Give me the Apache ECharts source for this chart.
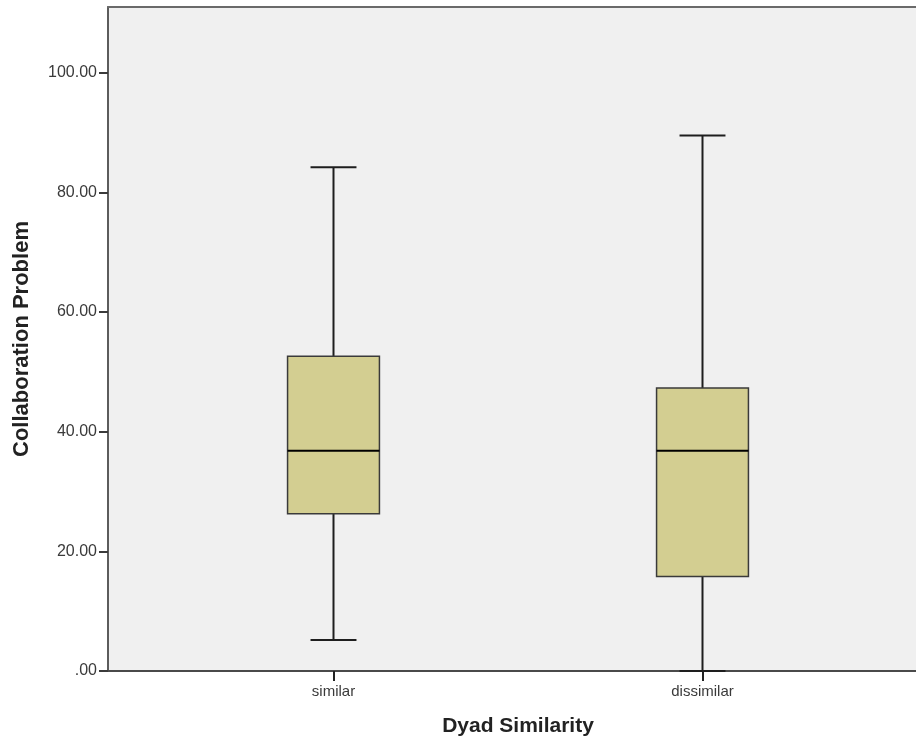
<!DOCTYPE html>
<html>
<head>
<meta charset="utf-8">
<script src="https://cdn.jsdelivr.net/npm/echarts@6/dist/echarts.min.js"></script>
<style>
  html, body { margin: 0; padding: 0; background: #ffffff; }
  #chart { width: 916px; height: 742px; }
</style>
</head>
<body>
<div id="chart"></div>
<script>
// Groups on the x axis
const categories = ['similar', 'dissimilar'];
// Five-number summaries per group: [min, Q1, median, Q3, max]
const boxStats = [
  [5.2, 26.3, 36.8, 52.6, 84.2],
  [0.0, 15.8, 36.8, 47.3, 89.5]
];
// Y axis scale
const yMin = 0;
const yMax = 111;
const yInterval = 20;

const FONT = '"Liberation Sans", Arial, sans-serif';
const FRAME = '#5c5c5c';

const chart = echarts.init(document.getElementById('chart'), null, { renderer: 'canvas' });

function renderBox(params, api) {
  const idx = api.value(0);
  const lo = api.value(1), q1 = api.value(2), med = api.value(3), q3 = api.value(4), hi = api.value(5);
  const band = api.size([1, 0])[0];
  const boxW = band * 0.249;
  const capW = boxW / 2;
  const pLo = api.coord([idx, lo]);
  const pQ1 = api.coord([idx, q1]);
  const pMed = api.coord([idx, med]);
  const pQ3 = api.coord([idx, q3]);
  const pHi = api.coord([idx, hi]);
  const x = pMed[0];
  const lineStyle = { stroke: '#1e1e1e', lineWidth: 2 };
  return {
    type: 'group',
    children: [
      { type: 'line', shape: { x1: x, y1: pQ3[1], x2: x, y2: pHi[1] }, style: lineStyle },
      { type: 'line', shape: { x1: x, y1: pQ1[1], x2: x, y2: pLo[1] }, style: lineStyle },
      { type: 'line', shape: { x1: x - capW / 2, y1: pHi[1], x2: x + capW / 2, y2: pHi[1] }, style: lineStyle },
      { type: 'line', shape: { x1: x - capW / 2, y1: pLo[1], x2: x + capW / 2, y2: pLo[1] }, style: lineStyle },
      {
        type: 'rect',
        shape: { x: x - boxW / 2, y: pQ3[1], width: boxW, height: pQ1[1] - pQ3[1] },
        style: { fill: '#d3ce91', stroke: '#3a3a3a', lineWidth: 1.5 }
      },
      { type: 'line', shape: { x1: x - boxW / 2, y1: pMed[1], x2: x + boxW / 2, y2: pMed[1] }, style: { stroke: '#000000', lineWidth: 2 } }
    ]
  };
}

const option = {
  animation: false,
  backgroundColor: '#ffffff',
  grid: [
    // plotting frame
    { left: 108, right: 0, top: 7, bottom: 71, show: true, backgroundColor: '#f0f0f0', borderWidth: 0 },
    // category placement
    { left: 149, right: 29, top: 7, bottom: 71 }
  ],
  xAxis: [
    {
      gridIndex: 0, type: 'value', min: 0, max: 1,
      axisLine: { show: true, lineStyle: { color: '#4a4a4a', width: 2 } },
      axisTick: { show: false }, axisLabel: { show: false }, splitLine: { show: false }
    },
    {
      gridIndex: 1, type: 'category', data: categories, boundaryGap: true,
      axisLine: { show: false },
      axisTick: { show: true, alignWithLabel: true, length: 10, lineStyle: { color: '#222222', width: 2 } },
      axisLabel: { show: true, margin: 13, color: '#3a3a3a', fontSize: 15, fontFamily: FONT },
      name: 'Dyad Similarity', nameLocation: 'middle', nameGap: 45,
      nameTextStyle: { color: '#222222', fontSize: 21, fontWeight: 'bold', fontFamily: FONT }
    },
    {
      // top edge of the frame
      gridIndex: 0, type: 'value', min: 0, max: 1, position: 'top',
      axisLine: { show: true, lineStyle: { color: '#6a6a6a', width: 2 } },
      axisTick: { show: false }, axisLabel: { show: false }, splitLine: { show: false }
    }
  ],
  yAxis: [
    {
      gridIndex: 0, type: 'value', min: yMin, max: yMax, interval: yInterval,
      axisLine: { show: true, lineStyle: { color: FRAME, width: 2 } },
      axisTick: { show: true, length: 9, lineStyle: { color: '#3a3a3a', width: 2 } },
      axisLabel: {
        show: true, margin: 11, color: '#3a3a3a', fontSize: 16, fontFamily: FONT,
        showMaxLabel: false,
        formatter: function (v) { return v.toFixed(2).replace(/^0\./, '.'); }
      },
      splitLine: { show: false },
      name: 'Collaboration Problem', nameLocation: 'middle', nameGap: 75,
      nameTextStyle: { color: '#222222', fontSize: 22, fontWeight: 'bold', fontFamily: FONT }
    },
    {
      gridIndex: 1, type: 'value', min: yMin, max: yMax, interval: yInterval, show: false
    }
  ],
  series: [
    {
      type: 'custom',
      xAxisIndex: 1, yAxisIndex: 1,
      z: 10,
      renderItem: renderBox,
      encode: { x: 0, y: [1, 2, 3, 4, 5] },
      data: boxStats.map(function (s, i) { return [i].concat(s); }),
      clip: false
    }
  ]
};

chart.setOption(option);
</script>
</body>
</html>
